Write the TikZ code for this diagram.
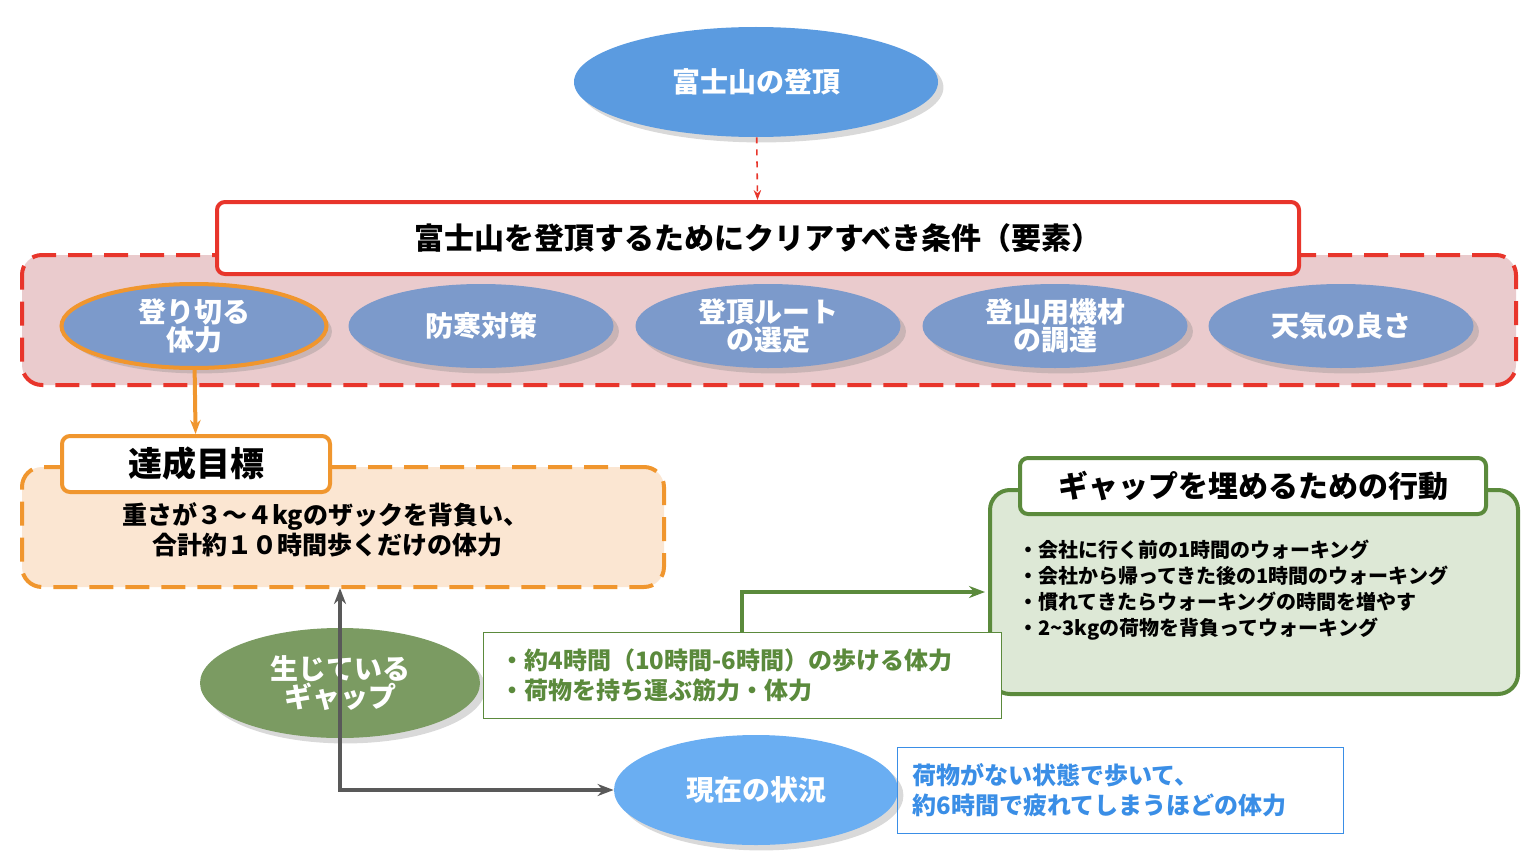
\documentclass[tikz,border=0pt]{standalone}
\usepackage{fontspec}
\setmainfont{Noto Sans CJK JP}
\usetikzlibrary{shapes.geometric,arrows.meta,shadows}
\definecolor{topblue}{HTML}{5B9BE0}
\definecolor{elemblue}{HTML}{7C9ACB}
\definecolor{nowblue}{HTML}{6AAEF2}
\definecolor{condred}{HTML}{E8352B}
\definecolor{condfill}{HTML}{EACBCD}
\definecolor{goalorange}{HTML}{F0962E}
\definecolor{goalfill}{HTML}{FBE6D2}
\definecolor{gapgreen}{HTML}{5B8A3C}
\definecolor{gapfill}{HTML}{7B9B62}
\definecolor{actfill}{HTML}{DDE8D6}
\definecolor{txtblue}{HTML}{3A8EE6}
\begin{document}
\begin{tikzpicture}
  [x=0.5pt,y=-0.5pt,
   oval/.style={ellipse,inner sep=0,text=white,font=\fontsize{14}{16}\selectfont\bfseries,
                align=center,drop shadow={opacity=0.3}},
   element/.style={oval,fill=elemblue,minimum width=132.5pt,minimum height=42pt},
   header/.style={rectangle,rounded corners=4pt,fill=white,line width=2pt,
                  font=\fontsize{15}{18}\selectfont\bfseries,anchor=north west},
   area/.style={rectangle,rounded corners=10pt,line width=2pt,anchor=north west},
   list/.style={align=left,anchor=north west,inner sep=0}]
  \useasboundingbox (0,0) rectangle (1536,856);
  % top goal
  \node[oval,fill=topblue,minimum width=182pt,minimum height=55pt] (summit) at (756,82) {富士山の登頂};
  % conditions
  \node[area,draw=condred,fill=condfill,dashed,dash pattern=on 12pt off 6pt,
        minimum width=747pt,minimum height=65pt] (condarea) at (20,253) {};
  \node[header,draw=condred,minimum width=541pt,minimum height=36pt] (condhead) at (215,200)
       {富士山を登頂するためにクリアすべき条件（要素）};
  \node[element,draw=goalorange,line width=2pt] (power) at (194,326) {登り切る\\[-2pt]体力};
  \node[element] (cold) at (481,326) {防寒対策};
  \node[element] (route) at (768,326) {登頂ルート\\[-2pt]の選定};
  \node[element] (gear) at (1055,326) {登山用機材\\[-2pt]の調達};
  \node[element] (weather) at (1341,326) {天気の良さ};
  % target
  \node[area,draw=goalorange,fill=goalfill,dashed,dash pattern=on 12pt off 6pt,
        minimum width=321pt,minimum height=60pt] (goalarea) at (20,465) {};
  \node[header,draw=goalorange,minimum width=134pt,minimum height=28pt] (goalhead) at (60,434) {\fontsize{17}{18}\selectfont 達成目標};
  \node[align=left,font=\fontsize{12.5}{15}\selectfont\bfseries] (goaltext) at (325,530)
       {重さが３〜４kgのザックを背負い、\\\hspace{1.2em}合計約１０時間歩くだけの体力};
  % actions
  \node[area,draw=gapgreen,fill=actfill,minimum width=264pt,minimum height=102pt] (actarea) at (988,488) {};
  \node[header,draw=gapgreen,minimum width=233pt,minimum height=28pt] (acthead) at (1018,456) {ギャップを埋めるための行動};
  \node[list,font=\fontsize{10}{13}\selectfont\bfseries] (acttext) at (1018,540)
       {・会社に行く前の1時間のウォーキング\\・会社から帰ってきた後の1時間のウォーキング\\・慣れてきたらウォーキングの時間を増やす\\・2\textasciitilde3kgの荷物を背負ってウォーキング};
  % gap
  \node[oval,fill=gapfill,minimum width=140pt,minimum height=55pt] (gap) at (340,683) {生じている\\[-2pt]ギャップ};
  \node[rectangle,draw=gapgreen,fill=white,thin,minimum width=259pt,minimum height=43pt,
        anchor=north west] (gapbox) at (483,632) {};
  \node[list,text=gapgreen,font=\fontsize{12}{15}\selectfont\bfseries] (gaptext) at (500,648)
       {・約4時間（10時間-6時間）の歩ける体力\\・荷物を持ち運ぶ筋力・体力};
  % current
  \node[oval,fill=nowblue,minimum width=142pt,minimum height=55pt] (now) at (756,790) {現在の状況};
  \node[rectangle,draw=txtblue,thin,minimum width=223pt,minimum height=43pt,
        anchor=north west] (nowbox) at (897,747) {};
  \node[list,text=txtblue,font=\fontsize{12}{15}\selectfont\bfseries] (nowtext) at (912,763)
       {荷物がない状態で歩いて、\\約6時間で疲れてしまうほどの体力};
  \coordinate (corner) at (340,790);
  \coordinate (goalbot) at (340,588);
  \coordinate (turn) at (742,592);
  \coordinate (actin) at (985,592);
  % connectors
  \draw[condred,thick,dashed,-{Stealth[length=5pt]}] (summit) -- (condhead);
  \draw[goalorange,line width=2pt,-{Stealth[length=7pt]}] (power) -- (goalhead);
  \draw[black!65,line width=1.8pt,{Stealth[length=8pt]}-{Stealth[length=8pt]}]
       (goalbot) -- (corner) -- (now.west);
  \draw[gapgreen,line width=1.8pt,-{Stealth[length=8pt]}] (gapbox.north -| turn) -- (turn) -- (actin);
\end{tikzpicture}
\end{document}
